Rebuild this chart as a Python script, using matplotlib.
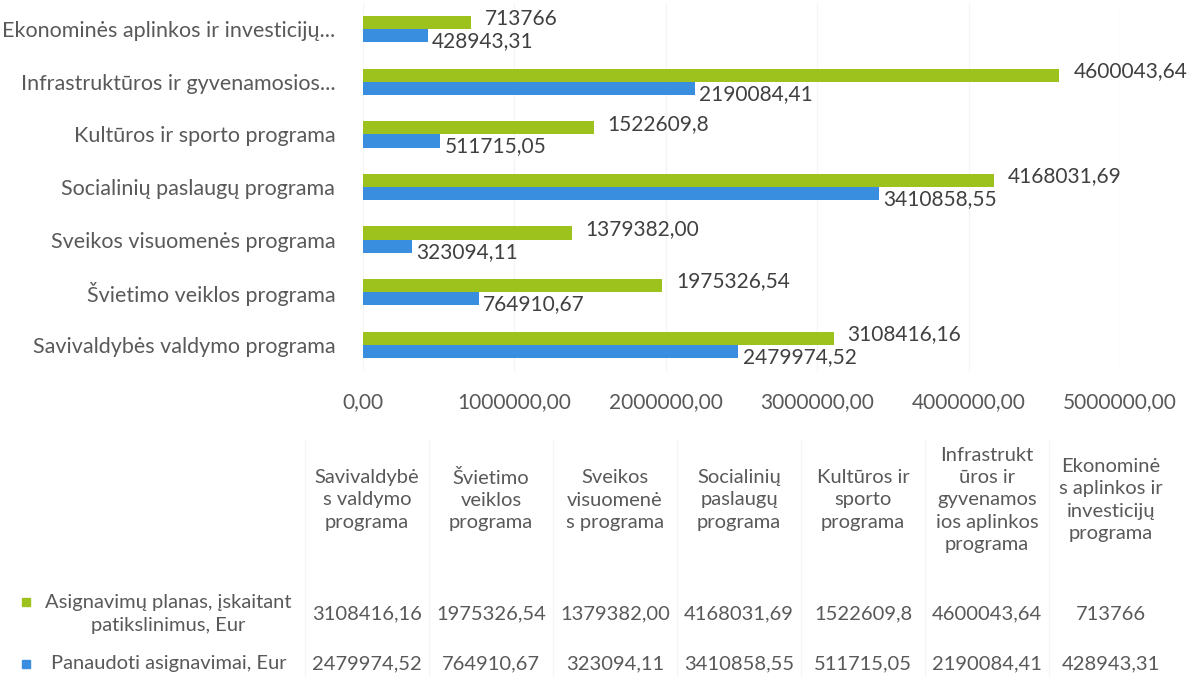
import matplotlib.pyplot as plt
import numpy as np

# Duomenys (nuo apacios i virsu)
programos = ['Savivaldybės valdymo programa', 'Švietimo veiklos programa',
             'Sveikos visuomenės programa', 'Socialinių paslaugų programa',
             'Kultūros ir sporto programa', 'Infrastruktūros ir gyvenamosios...',
             'Ekonominės aplinkos ir investicijų...']
lenteles_antrastes = ['Savivaldybė\ns valdymo\nprograma', 'Švietimo\nveiklos\nprograma',
                      'Sveikos\nvisuomenė\ns programa', 'Socialinių\npaslaugų\nprograma',
                      'Kultūros ir\nsporto\nprograma', 'Infrastrukt\nūros ir\ngyvenamos\nios aplinkos\nprograma',
                      'Ekonominė\ns aplinkos ir\ninvesticijų\nprograma']
planas = [3108416.16, 1975326.54, 1379382.00, 4168031.69, 1522609.8, 4600043.64, 713766]
panaudota = [2479974.52, 764910.67, 323094.11, 3410858.55, 511715.05, 2190084.41, 428943.31]
planas_txt = ['3108416,16', '1975326,54', '1379382,00', '4168031,69', '1522609,8', '4600043,64', '713766']
panaudota_txt = ['2479974,52', '764910,67', '323094,11', '3410858,55', '511715,05', '2190084,41', '428943,31']
x_ticks = [0, 1000000, 2000000, 3000000, 4000000, 5000000]
x_tick_txt = ['0,00', '1000000,00', '2000000,00', '3000000,00', '4000000,00', '5000000,00']

ZALIA = '#9DC21E'
MELYNA = '#3A8EE0'
PILKA = '#595959'
TAMSI = '#404040'

plt.rcParams['font.family'] = ['Lato', 'DejaVu Sans']

W, H = 1189, 677
fig = plt.figure(figsize=(W / 100, H / 100), dpi=100)
ax = fig.add_axes([363 / W, 1 - 371 / H, (1120 - 363) / W, 368 / H])

y = np.arange(len(programos))
h = 0.25
ax.barh(y + h / 2, planas, h, color=ZALIA)
ax.barh(y - h / 2, panaudota, h, color=MELYNA)

# Duomenu etiketes
for i in range(len(programos)):
    ax.annotate(planas_txt[i], (planas[i], y[i] + h / 2), xytext=(10, 3),
                textcoords='offset points', va='center', ha='left',
                fontsize=15, color=TAMSI)
    ax.annotate(panaudota_txt[i], (panaudota[i], y[i] - h / 2), xytext=(3, -4),
                textcoords='offset points', va='center', ha='left',
                fontsize=15, color=TAMSI)

ax.set_xlim(0, 5000000)
ax.set_ylim(-0.5, len(programos) - 0.5)
ax.set_yticks(y)
ax.set_yticklabels(programos, fontsize=15.5, color=PILKA)
ax.set_xticks(x_ticks)
ax.set_xticklabels(x_tick_txt, fontsize=15, color=PILKA)
ax.tick_params(axis='both', length=0)
ax.tick_params(axis='y', pad=20)
ax.tick_params(axis='x', pad=15)
ax.grid(True, axis='x', color='#F5F5F5', linewidth=1)
ax.set_axisbelow(True)
for s in ax.spines.values():
    s.set_visible(False)

# Duomenu lentele
col_left = 305
col_w = 124
fs_lent = 14.5
for j in range(len(programos)):
    cx = (col_left + col_w * (j + 0.5)) / W
    fig.text(cx, 1 - 500 / H, lenteles_antrastes[j], ha='center', va='center',
             multialignment='center', fontsize=fs_lent, color=PILKA, linespacing=1.38)
    fig.text(cx, 1 - 614 / H, planas_txt[j], ha='center', va='center',
             fontsize=fs_lent, color=PILKA)
    fig.text(cx, 1 - 664 / H, panaudota_txt[j], ha='center', va='center',
             fontsize=fs_lent, color=PILKA)
    if j > 0:
        fig.add_artist(plt.Line2D([(col_left + col_w * j) / W] * 2, [1 - 440 / H, 0],
                                  color='#F5F5F5', linewidth=1))
fig.add_artist(plt.Line2D([col_left / W] * 2, [1 - 440 / H, 0], color='#F5F5F5', linewidth=1))

# Legenda lenteleje
fig.text(168 / W, 1 - 614 / H, 'Asignavimų planas, įskaitant\npatikslinimus, Eur',
         ha='center', va='center', multialignment='center', fontsize=fs_lent,
         color=PILKA, linespacing=1.38)
fig.text(169 / W, 1 - 664 / H, 'Panaudoti asignavimai, Eur', ha='center', va='center',
         fontsize=fs_lent, color=PILKA)
fig.add_artist(plt.Rectangle((22 / W, 1 - 606 / H), 8 / W, 8 / H, color=ZALIA,
                             transform=fig.transFigure))
fig.add_artist(plt.Rectangle((22 / W, 1 - 668 / H), 8 / W, 8 / H, color=MELYNA,
                             transform=fig.transFigure))

fig.savefig('out.png', dpi=100)
